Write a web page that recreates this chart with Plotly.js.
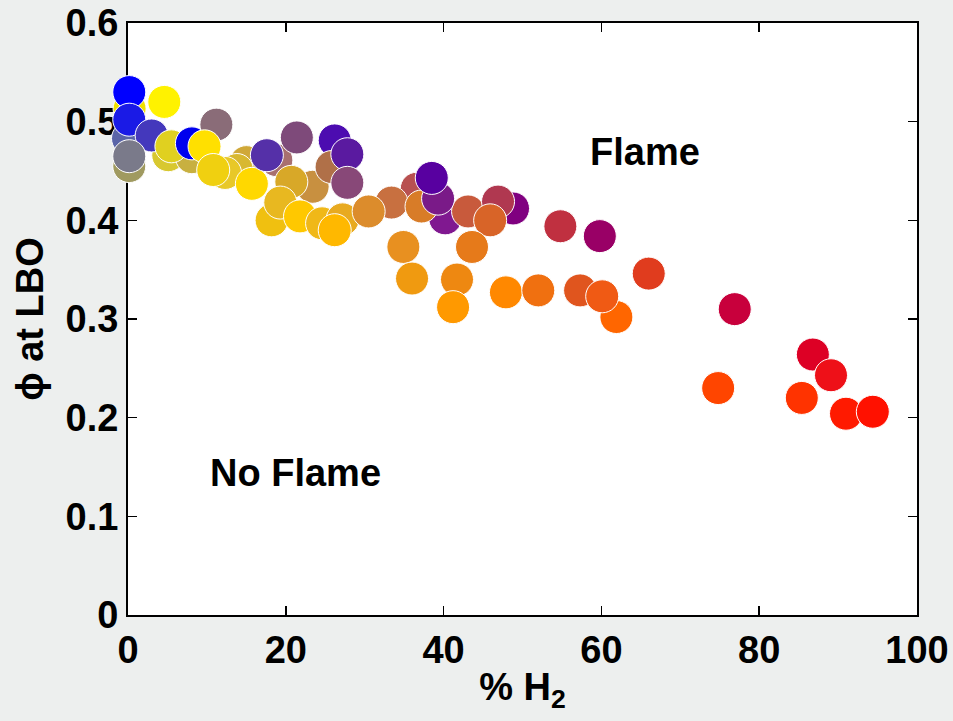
<!DOCTYPE html>
<html>
<head>
<meta charset="utf-8">
<script src="https://cdn.plot.ly/plotly-3.0.1.min.js"></script>
<style>html,body{margin:0;padding:0;background:#edefee;}#chart{width:953px;height:721px;}</style>
</head>
<body>
<div id="chart"></div>
<script>
// % H2 (x), phi at LBO (y), marker colour — in drawing order
const h2Percent = [0.2, 0.0, 0.16, 5.1, 8.1, 15.0, 18.8, 23.4, 36.6, 40.2, 48.8, 43.1, 33.4, 37.2,
  0.16, 4.6, 0.16, 3.0, 0.16, 5.5, 8.1, 11.2, 9.7, 13.8, 12.3, 10.8, 15.7, 17.6, 21.4, 20.7,
  18.2, 19.3, 21.8, 26.2, 25.8, 27.8, 27.8, 24.6, 27.2, 26.2, 30.5, 39.3, 38.5, 46.9, 45.9,
  34.9, 43.6, 54.8, 59.8, 66.0, 36.0, 41.7, 41.2, 47.9, 52.0, 57.3, 61.9, 60.1, 76.9, 74.8,
  86.8, 89.1, 85.4, 91.0, 94.4];
const phiLBO = [0.513, 0.483, 0.455, 0.466, 0.464, 0.459, 0.461, 0.434, 0.432, 0.402, 0.412, 0.409, 0.418, 0.414,
  0.530, 0.520, 0.502, 0.486, 0.465, 0.475, 0.478, 0.497, 0.475, 0.451, 0.448, 0.451, 0.437, 0.466, 0.484, 0.439,
  0.400, 0.418, 0.404, 0.481, 0.454, 0.467, 0.438, 0.397, 0.401, 0.390, 0.409, 0.422, 0.443, 0.419, 0.400,
  0.373, 0.373, 0.394, 0.384, 0.346, 0.341, 0.340, 0.312, 0.327, 0.329, 0.329, 0.302, 0.323, 0.310, 0.230,
  0.264, 0.243, 0.220, 0.204, 0.206];
const pointColors = ['#f0e000', '#5a64a8', '#a09a60', '#d8c830', '#c8b040', '#d0a838', '#a87070', '#c89040', '#b85050', '#801890', '#800080', '#c85a3c', '#c87040', '#d87c28',
  '#0000ff', '#fff200', '#1a1ae6', '#4438bc', '#7a7a8a', '#e0d020', '#0000ee', '#8a6c78', '#ffe000', '#d8b830', '#e8c828', '#f0d010', '#ffd800', '#5530a8', '#7e4a7a', '#d8a828',
  '#f0c010', '#e8b820', '#ffc800', '#4c0cb0', '#b07048', '#5a1aa0', '#884878', '#f0b818', '#e8aa20', '#ffb800', '#dc8c2c', '#7a1a88', '#5800a0', '#b03850', '#d86428',
  '#e89020', '#e67a1a', '#c03040', '#990066', '#e03c1e', '#f09a10', '#ee8811', '#ff9900', '#ff8800', '#f07010', '#e0551e', '#ff6600', '#f05a14', '#c8003c', '#ff4500',
  '#dd0025', '#ee1018', '#ff3300', '#ff1a00', '#ff1100'];
const xTicks = [0, 20, 40, 60, 80, 100];
const yTicks = [0, 0.1, 0.2, 0.3, 0.4, 0.5, 0.6];
const yTickText = ['0', '0.1', '0.2', '0.3', '0.4', '0.5', '0.6'];
const regionLabels = ['Flame', 'No Flame'];
const regionX = [65.5, 21.2];
const regionY = [0.469, 0.144];

const font = {family: 'Liberation Sans, Arial, sans-serif', size: 38, color: '#000', weight: 'bold'};

const trace = {
  type: 'scatter', mode: 'markers', x: h2Percent, y: phiLBO, cliponaxis: false,
  marker: {size: 33, color: pointColors, line: {color: '#ffffff', width: 1}},
  hoverinfo: 'x+y'
};

const axisCommon = {
  showgrid: false, zeroline: false, showline: true, linecolor: '#000', linewidth: 2,
  mirror: 'ticks', ticks: 'inside', ticklen: 9, tickwidth: 1.5, tickcolor: '#000',
  tickfont: font, layer: 'below traces'
};

const layout = {
  width: 953, height: 721,
  paper_bgcolor: '#edefee', plot_bgcolor: '#ffffff',
  margin: {l: 128, r: 36, t: 23, b: 106},
  showlegend: false,
  xaxis: Object.assign({}, axisCommon, {
    range: [0, 100], tickvals: xTicks, ticktext: xTicks.map(String),
    title: {text: '% H<sub>2</sub>', font: font, standoff: 4}
  }),
  yaxis: Object.assign({}, axisCommon, {
    range: [0, 0.6], tickvals: yTicks, ticktext: yTickText,
    title: {text: '\u03d5 at LBO', font: font, standoff: 10}
  }),
  annotations: regionLabels.map((t, i) => ({
    text: t, x: regionX[i], y: regionY[i], xref: 'x', yref: 'y', showarrow: false, font: font
  }))
};

Plotly.newPlot('chart', [trace], layout, {displayModeBar: false, staticPlot: true});
</script>
</body>
</html>
